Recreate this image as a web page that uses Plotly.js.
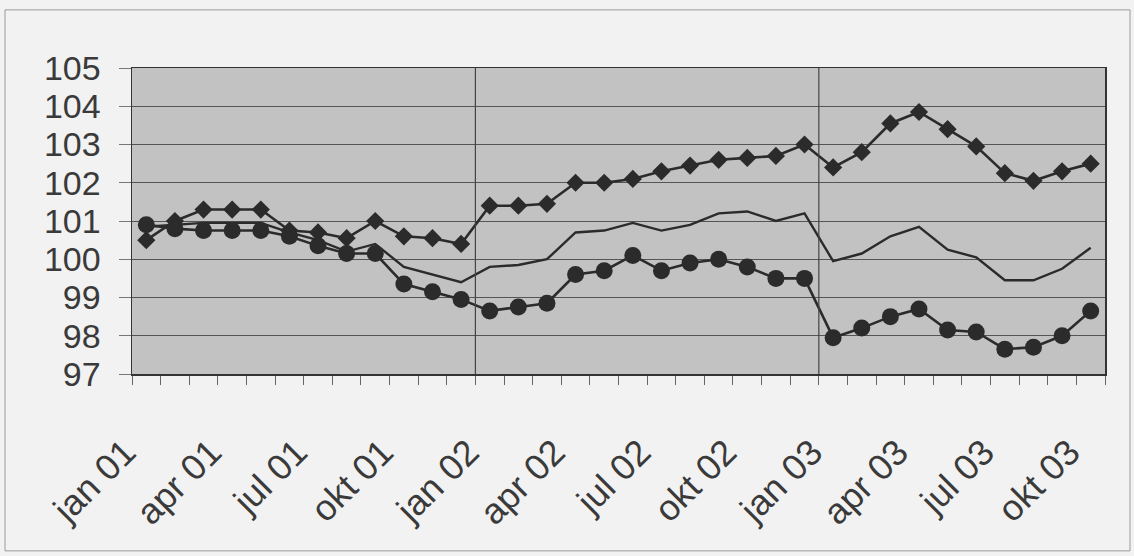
<!DOCTYPE html>
<html>
<head>
<meta charset="utf-8">
<script src="https://cdn.plot.ly/plotly-3.0.1.min.js"></script>
<style>
  html, body { margin: 0; padding: 0; background: #f2f2f2; }
  #chart { width: 1134px; height: 556px; }
</style>
</head>
<body>
<div id="chart"></div>
<script>
// Months (jan 01 .. okt 03)
const months = [
  "jan 01","feb 01","mar 01","apr 01","mai 01","jun 01","jul 01","aug 01","sep 01","okt 01","nov 01","des 01",
  "jan 02","feb 02","mar 02","apr 02","mai 02","jun 02","jul 02","aug 02","sep 02","okt 02","nov 02","des 02",
  "jan 03","feb 03","mar 03","apr 03","mai 03","jun 03","jul 03","aug 03","sep 03","okt 03"
];
// Shown tick labels (every quarter)
const tickLabels = ["jan 01","apr 01","jul 01","okt 01","jan 02","apr 02","jul 02","okt 02","jan 03","apr 03","jul 03","okt 03"];

// Series
const seriesDiamond = [
  100.5, 101.0, 101.3, 101.3, 101.3, 100.75, 100.7, 100.55, 101.0, 100.6, 100.55, 100.4,
  101.4, 101.4, 101.45, 102.0, 102.0, 102.1, 102.3, 102.45, 102.6, 102.65, 102.7, 103.0,
  102.4, 102.8, 103.55, 103.85, 103.4, 102.95, 102.25, 102.05, 102.3, 102.5
];
const seriesLine = [
  100.85, 100.9, 100.95, 100.95, 100.95, 100.7, 100.5, 100.2, 100.4, 99.8, 99.6, 99.4,
  99.8, 99.85, 100.0, 100.7, 100.75, 100.95, 100.75, 100.9, 101.2, 101.25, 101.0, 101.2,
  99.95, 100.15, 100.6, 100.85, 100.25, 100.05, 99.45, 99.45, 99.75, 100.3
];
const seriesCircle = [
  100.9, 100.8, 100.75, 100.75, 100.75, 100.6, 100.35, 100.15, 100.15, 99.35, 99.15, 98.95,
  98.65, 98.75, 98.85, 99.6, 99.7, 100.1, 99.7, 99.9, 100.0, 99.8, 99.5, 99.5,
  97.95, 98.2, 98.5, 98.7, 98.15, 98.1, 97.65, 97.7, 98.0, 98.65
];
// Year separators (before jan 02 and jan 03)
const yearStarts = ["jan 02", "jan 03"];

const dark = "#2b2b2b";
const textColor = "#3a3a3a";
const pad = "\u00A0\u00A0\u00A0";

const traces = [
  { x: months, y: seriesLine, type: "scatter", mode: "lines",
    line: { color: dark, width: 2.4 }, hoverinfo: "skip" },
  { x: months, y: seriesDiamond, type: "scatter", mode: "lines+markers",
    line: { color: dark, width: 2.6 },
    marker: { symbol: "diamond", size: 14, color: dark } },
  { x: months, y: seriesCircle, type: "scatter", mode: "lines+markers",
    line: { color: dark, width: 2.6 },
    marker: { symbol: "circle", size: 17, color: dark } }
];

const shapes = yearStarts.map(m => ({
  type: "line", xref: "x", yref: "paper",
  x0: months.indexOf(m) - 0.5, x1: months.indexOf(m) - 0.5, y0: 0, y1: 1,
  line: { color: "#444", width: 1.2 }
}));
// outer frame of the scanned chart
shapes.push({
  type: "rect", xref: "paper", yref: "paper",
  x0: -0.1305, x1: 1.0257, y0: -0.578, y1: 1.19,
  line: { color: "#9a9a9a", width: 1 }, layer: "below"
});

const layout = {
  width: 1134, height: 556,
  margin: { l: 132, r: 29, t: 68, b: 182 },
  paper_bgcolor: "#f2f2f2",
  plot_bgcolor: "#c2c2c2",
  showlegend: false,
  font: { family: "Liberation Sans, Arial, sans-serif", color: textColor },
  xaxis: {
    type: "category",
    categoryorder: "array", categoryarray: months,
    range: [-0.5, months.length - 0.5],
    tickmode: "array",
    tickvals: months,
    ticktext: months.map(m => tickLabels.includes(m) ? m + pad : ""),
    tickson: "boundaries",
    ticks: "outside", ticklen: 9, tickcolor: "#666", tickwidth: 1,
    tickangle: -45,
    tickfont: { size: 36, color: textColor },
    ticklabelstandoff: 20,
    showgrid: false,
    showline: true, mirror: true, linecolor: "#333", linewidth: 1.5,
    zeroline: false, fixedrange: true
  },
  yaxis: {
    range: [97, 105],
    tickmode: "linear", tick0: 97, dtick: 1,
    ticks: "outside", ticklen: 12, tickcolor: "#777", tickwidth: 1,
    tickfont: { size: 34, color: textColor },
    ticklabelstandoff: 11,
    showgrid: true, gridcolor: "#555", gridwidth: 1,
    showline: true, mirror: true, linecolor: "#333", linewidth: 1.5,
    zeroline: false, fixedrange: true
  },
  shapes: shapes
};

Plotly.newPlot("chart", traces, layout, { displayModeBar: false, staticPlot: true });
</script>
</body>
</html>
